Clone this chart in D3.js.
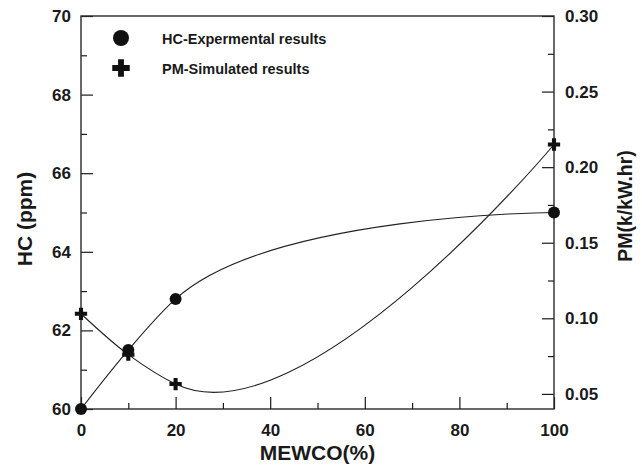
<!DOCTYPE html>
<html><head><meta charset="utf-8">
<script src="https://cdn.jsdelivr.net/npm/d3@7/dist/d3.min.js"></script>
<style>
body{margin:0;background:#fff;}
text{font-family:"Liberation Sans",Arial,sans-serif;font-weight:bold;fill:#1a1a1a;}
</style>
</head><body>
<svg id="chart" width="642" height="466"></svg>
<script>
// ---- data ----
const mewco = [0, 10, 20, 100];
const hcValues = [60.0, 61.5, 62.8, 65.0];
const pmValues = [0.103, 0.076, 0.0565, 0.215];
const xTicks = [0, 20, 40, 60, 80, 100];
const xMinorTicks = [10, 30, 50, 70, 90];
const hcTicks = [60, 62, 64, 66, 68, 70];
const hcMinorTicks = [61, 63, 65, 67, 69];
const pmTicks = [0.05, 0.10, 0.15, 0.20, 0.25, 0.30];
const pmMinorTicks = [0.075, 0.125, 0.175, 0.225, 0.275];
const legendLabels = ["HC-Expermental results", "PM-Simulated results"];
const axisTitles = {x: "MEWCO(%)", left: "HC (ppm)", right: "PM(k/kW.hr)"};

// ---- layout ----
const L = 81, R = 554, T = 16, B = 409;
const svg = d3.select("#chart");
const x = d3.scaleLinear().domain([0, 100]).range([L, R]);
const yL = d3.scaleLinear().domain([60, 70]).range([B, T]);
const yR = d3.scaleLinear().domain([0.04, 0.30]).range([B, T]);
const ink = "#1a1a1a";

function styleAxis(g) {
  g.select(".domain").remove();
  g.selectAll(".tick line").attr("stroke", ink).attr("stroke-width", 1.2);
  g.selectAll(".tick text").attr("font-size", 17).attr("fill", ink)
    .attr("font-family", "Liberation Sans, Arial, sans-serif").attr("font-weight", "bold");
}

// bottom axis
svg.append("g").attr("transform", `translate(0,${B})`)
  .call(d3.axisBottom(x).tickValues(xTicks).tickSize(-12).tickPadding(15).tickFormat(d3.format("d")))
  .call(styleAxis);
svg.append("g").attr("transform", `translate(0,${B})`)
  .call(d3.axisBottom(x).tickValues(xMinorTicks).tickSize(-6).tickFormat(""))
  .call(styleAxis);

// left axis
svg.append("g").attr("transform", `translate(${L},0)`)
  .call(d3.axisLeft(yL).tickValues(hcTicks).tickSize(-12).tickPadding(10).tickFormat(d3.format("d")))
  .call(styleAxis);
svg.append("g").attr("transform", `translate(${L},0)`)
  .call(d3.axisLeft(yL).tickValues(hcMinorTicks).tickSize(-6).tickFormat(""))
  .call(styleAxis);

// right axis
svg.append("g").attr("transform", `translate(${R},0)`)
  .call(d3.axisRight(yR).tickValues(pmTicks).tickSize(-12).tickPadding(11).tickFormat(d3.format(".2f")))
  .call(styleAxis);
svg.append("g").attr("transform", `translate(${R},0)`)
  .call(d3.axisRight(yR).tickValues(pmMinorTicks).tickSize(-6).tickFormat(""))
  .call(styleAxis);

// frame
svg.append("rect").attr("x", L).attr("y", T).attr("width", R - L).attr("height", B - T)
  .attr("fill", "none").attr("stroke", "#2a2a2a").attr("stroke-width", 1.4);

// axis titles
svg.append("text").attr("x", (L + R) / 2).attr("y", 459.5).attr("text-anchor", "middle")
  .attr("font-size", 21).text(axisTitles.x);
svg.append("text").attr("transform", "translate(24,219) rotate(-90)")
  .attr("text-anchor", "middle").attr("dominant-baseline", "central")
  .attr("font-size", 21).text(axisTitles.left);
svg.append("text").attr("transform", "translate(625,206) rotate(-90)")
  .attr("text-anchor", "middle").attr("dominant-baseline", "central")
  .attr("font-size", 19.5).text(axisTitles.right);

// curves
const curve = d3.curveCatmullRom.alpha(1);
const hcData = mewco.map((m, i) => ({m, v: hcValues[i]}));
const pmData = mewco.map((m, i) => ({m, v: pmValues[i]}));
svg.append("path").datum(hcData).attr("fill", "none").attr("stroke", "#222").attr("stroke-width", 1.1)
  .attr("d", d3.line().x(d => x(d.m)).y(d => yL(d.v)).curve(curve));
svg.append("path").datum(pmData).attr("fill", "none").attr("stroke", "#222").attr("stroke-width", 1.1)
  .attr("d", d3.line().x(d => x(d.m)).y(d => yR(d.v)).curve(curve));

// markers
svg.selectAll("circle.hc").data(hcData).enter().append("circle").attr("class", "hc")
  .attr("cx", d => x(d.m)).attr("cy", d => yL(d.v)).attr("r", 6).attr("fill", "#111");
const cross = d3.symbol().type(d3.symbolCross);
svg.selectAll("path.pm").data(pmData).enter().append("path").attr("class", "pm")
  .attr("transform", d => `translate(${x(d.m)},${yR(d.v)})`)
  .attr("d", cross.size(84)()).attr("fill", "#111");

// legend
const lg = svg.append("g");
lg.append("circle").attr("cx", 121).attr("cy", 38).attr("r", 8).attr("fill", "#111");
lg.append("path").attr("transform", "translate(121,68)").attr("d", d3.symbol().type(d3.symbolCross).size(170)()).attr("fill", "#111");
lg.selectAll("text").data(legendLabels).enter().append("text")
  .attr("x", 162).attr("y", (d, i) => i === 0 ? 39 : 68.5).attr("dominant-baseline", "central")
  .attr("font-size", 14.5).text(d => d);
</script>
</body></html>
